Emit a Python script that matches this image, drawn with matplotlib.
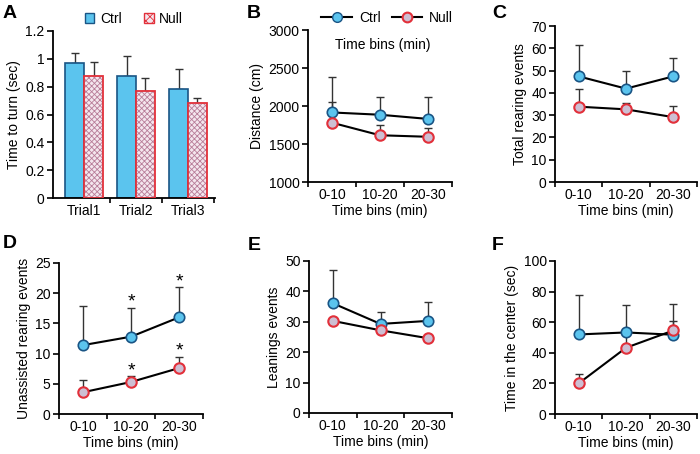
import matplotlib
matplotlib.use("Agg")
import matplotlib.pyplot as plt
import numpy as np
from matplotlib.patches import Patch
from matplotlib.lines import Line2D

plt.rcParams['font.family'] = ['Liberation Sans', 'DejaVu Sans']
plt.rcParams['hatch.linewidth'] = 0.6

# ---------------- data ----------------
trials = ["Trial1", "Trial2", "Trial3"]
bins = ["0-10", "10-20", "20-30"]

turn_ctrl = [0.97, 0.88, 0.78]
turn_ctrl_err = [0.07, 0.14, 0.15]
turn_null = [0.88, 0.77, 0.68]
turn_null_err = [0.10, 0.09, 0.04]

dist_ctrl = [1915, 1885, 1830]
dist_ctrl_err = [470, 240, 295]
dist_null = [1780, 1615, 1595]
dist_null_err = [275, 130, 115]

rear_ctrl = [47.4, 41.9, 47.4]
rear_ctrl_err = [14.2, 8.1, 8.3]
rear_null = [33.8, 32.6, 29.1]
rear_null_err = [8.1, 3.0, 5.0]

unas_ctrl = [11.4, 12.8, 16.0]
unas_ctrl_err = [6.4, 4.8, 5.0]
unas_null = [3.6, 5.3, 7.6]
unas_null_err = [2.0, 1.0, 1.9]

lean_ctrl = [36.1, 29.3, 30.3]
lean_ctrl_err = [10.8, 3.9, 6.2]
lean_null = [30.3, 27.2, 24.6]
lean_null_err = [0.0, 0.0, 0.0]

cent_ctrl = [52.0, 53.3, 51.8]
cent_ctrl_err = [26.0, 18.0, 20.0]
cent_null = [20.0, 43.3, 54.6]
cent_null_err = [6.0, 12.0, 6.5]

# ---------------- style ----------------
C_FACE = '#5BC4EE'
C_EDGE = '#1A5585'
N_EDGE = '#E2303A'
N_FACE = '#F4E6EE'
N_HATCH = '#B87C98'
N_MFACE = '#CDBFD3'
ERR_C = '#333333'

W, H = 700, 454
fig = plt.figure(figsize=(7.0, 4.54), dpi=100)


def add_ax(l, r, t, b):
    return fig.add_axes([l / W, 1 - b / H, (r - l) / W, (b - t) / H])


def style(ax):
    for s in ['top', 'right']:
        ax.spines[s].set_visible(False)
    for s in ['left', 'bottom']:
        ax.spines[s].set_linewidth(1.3)
    ax.tick_params(axis='y', direction='out', length=4, width=1.2, labelsize=10, pad=2)
    ax.tick_params(axis='x', which='major', length=0, labelsize=10, pad=4)
    ax.tick_params(axis='x', which='minor', direction='out', length=3.5, width=1.2)
    ax.set_xticks([0, 1, 2, 3], minor=True)
    ax.set_xticks([0.5, 1.5, 2.5])


def line_panel(ax, ctrl, cerr, null, nerr, ylim, yticks, ylabel):
    x = np.arange(3) + 0.5
    ax.errorbar(x, ctrl, yerr=[np.zeros(3), cerr], fmt='none', ecolor=ERR_C,
                elinewidth=1.0, capsize=3, capthick=1.0, zorder=2)
    ax.errorbar(x, null, yerr=[np.zeros(3), nerr], fmt='none', ecolor=ERR_C,
                elinewidth=1.0, capsize=3, capthick=1.0, zorder=2)
    ax.plot(x, ctrl, '-o', color='black', lw=1.5, ms=7.5, mfc=C_FACE, mec=C_EDGE,
            mew=1.2, zorder=3)
    ax.plot(x, null, '-o', color='black', lw=1.5, ms=7.5, mfc=N_MFACE, mec=N_EDGE,
            mew=1.5, zorder=3)
    ax.set_xlim(0, 3)
    ax.set_ylim(*ylim)
    ax.set_yticks(yticks)
    ax.set_xticklabels(bins)
    ax.set_xlabel('Time bins (min)', fontsize=10, labelpad=2)
    ax.set_ylabel(ylabel, fontsize=10, labelpad=3)
    style(ax)


# ---------------- A ----------------
axA = add_ax(53, 215, 31, 198)
xg = np.arange(3) + 0.5
bw = 0.36
axA.bar(xg - bw / 2, turn_ctrl, bw, color=C_FACE, edgecolor=C_EDGE, linewidth=1.2, zorder=2)
axA.bar(xg + bw / 2, turn_null, bw, color=N_FACE, edgecolor=N_HATCH, linewidth=0,
        hatch='xxxxxx', zorder=2)
axA.bar(xg + bw / 2, turn_null, bw, color='none', edgecolor=N_EDGE, linewidth=1.3, zorder=3)
axA.errorbar(xg - bw / 2, turn_ctrl, yerr=[np.zeros(3), turn_ctrl_err], fmt='none',
             ecolor=ERR_C, elinewidth=1.0, capsize=3, capthick=1.0, zorder=1)
axA.errorbar(xg + bw / 2, turn_null, yerr=[np.zeros(3), turn_null_err], fmt='none',
             ecolor=ERR_C, elinewidth=1.0, capsize=3, capthick=1.0, zorder=1)
axA.set_xlim(-0.1, 3.02)
axA.set_ylim(0, 1.2)
axA.set_yticks([0, 0.2, 0.4, 0.6, 0.8, 1.0, 1.2])
axA.set_yticklabels(['0', '0.2', '0.4', '0.6', '0.8', '1', '1.2'])
style(axA)
axA.set_xticks([1, 2, 3], minor=True)
axA.set_xticklabels(trials)
axA.set_ylabel('Time to turn (sec)', fontsize=10, labelpad=3)
hA = [Patch(facecolor=C_FACE, edgecolor=C_EDGE, linewidth=1.0),
      Patch(facecolor=N_FACE, edgecolor=N_EDGE, linewidth=1.0, hatch='xxxx')]
axA.legend(hA, ['Ctrl', 'Null'], loc='lower center', bbox_to_anchor=(0.5, 0.99),
           ncol=2, frameon=False, fontsize=10, handlelength=0.7, handleheight=0.7,
           handletextpad=0.4, columnspacing=1.6, borderaxespad=0.1)

# ---------------- B ----------------
axB = add_ax(308, 452, 30, 182)
line_panel(axB, dist_ctrl, dist_ctrl_err, dist_null, dist_null_err,
           (1000, 3000), [1000, 1500, 2000, 2500, 3000], 'Distance (cm)')
hB = [Line2D([], [], color='black', lw=1.5, marker='o', ms=7, mfc=C_FACE, mec=C_EDGE),
      Line2D([], [], color='black', lw=1.5, marker='o', ms=7, mfc=N_MFACE, mec=N_EDGE, mew=1.5)]
axB.legend(hB, ['Ctrl', 'Null'], loc='lower center', bbox_to_anchor=(0.55, 0.99),
           ncol=2, frameon=False, fontsize=10, handlelength=2.2,
           handletextpad=0.5, columnspacing=0.8, borderaxespad=0.1)
fig.text(383 / W, 1 - 45 / H, 'Time bins (min)', fontsize=10, ha='center', va='center')

# ---------------- C ----------------
axC = add_ax(555, 697, 26, 182)
line_panel(axC, rear_ctrl, rear_ctrl_err, rear_null, rear_null_err,
           (0, 70), np.arange(0, 71, 10), 'Total rearing events')

# ---------------- D ----------------
axD = add_ax(59, 203, 263, 414)
line_panel(axD, unas_ctrl, unas_ctrl_err, unas_null, unas_null_err,
           (0, 25), np.arange(0, 26, 5), 'Unassisted rearing events')
for i in [1, 2]:
    axD.text(i + 0.5, unas_ctrl[i] + unas_ctrl_err[i] + 0.9, '*', ha='center',
             va='center', fontsize=14)
    axD.text(i + 0.5, unas_null[i] + unas_null_err[i] + 0.9, '*', ha='center',
             va='center', fontsize=14)

# ---------------- E ----------------
axE = add_ax(309, 452, 261, 413)
line_panel(axE, lean_ctrl, lean_ctrl_err, lean_null, lean_null_err,
           (0, 50), np.arange(0, 51, 10), 'Leanings events')

# ---------------- F ----------------
axF = add_ax(555, 697, 261, 414)
line_panel(axF, cent_ctrl, cent_ctrl_err, cent_null, cent_null_err,
           (0, 100), np.arange(0, 101, 20), 'Time in the center (sec)')

# ---------------- panel letters ----------------
for lab, px, py in [('A', 3, 13), ('B', 247, 13), ('C', 492, 13),
                    ('D', 3, 244), ('E', 248, 245), ('F', 492, 245)]:
    fig.text(px / W, 1 - py / H, lab, fontsize=14, fontweight='bold',
             ha='left', va='center')

fig.savefig('out.png', dpi=100)
